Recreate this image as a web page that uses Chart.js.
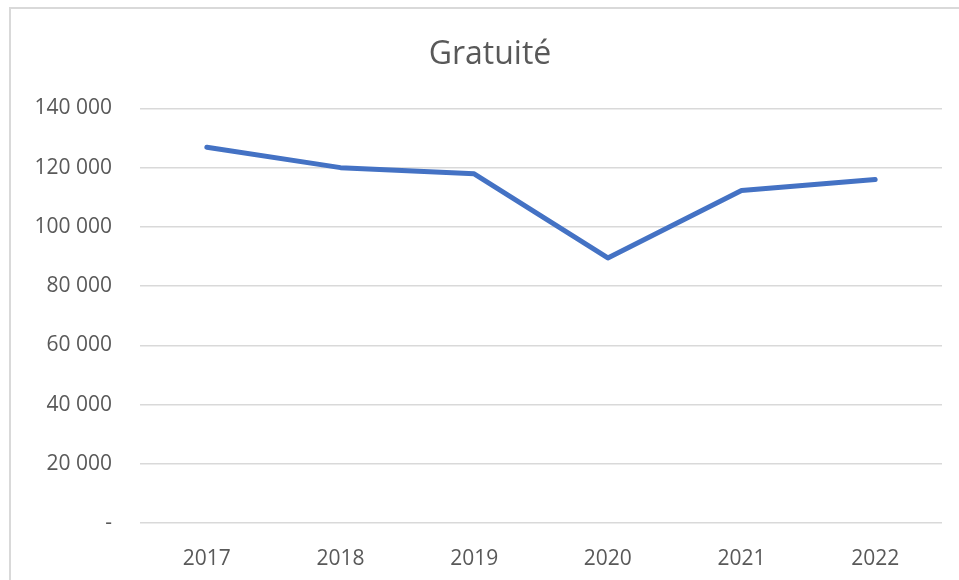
<!DOCTYPE html>
<html>
<head>
<meta charset="utf-8">
<script src="https://cdn.jsdelivr.net/npm/chart.js@4"></script>
<style>
  html, body { margin: 0; padding: 0; background: #fff; overflow: hidden; }
  #frame { position: absolute; left: 9px; top: 7px; width: 1000px; height: 600px;
           border-left: 2px solid #d9d9d9; border-top: 2px solid #d9d9d9; }
  #c { position: absolute; left: 0; top: 0; }
</style>
</head>
<body>
<div id="frame"></div>
<canvas id="c" width="959" height="580"></canvas>
<script>
const title = "Gratuité";
const years = ["2017", "2018", "2019", "2020", "2021", "2022"];
const gratuite = [126900, 120000, 117900, 89500, 112300, 116000];
const yMin = 0, yMax = 140000, yStep = 20000;

function fmt(v) {
  if (v === 0) return "-";
  return String(v).replace(/\B(?=(\d{3})+(?!\d))/g, " ");
}

const font = "'Open Sans', 'Liberation Sans', sans-serif";

const shiftTitle = {
  id: 'shiftTitle',
  afterLayout(chart) {
    const t = chart.titleBlock;
    if (t) { t.left += 14; t.right += 14; }
  }
};

new Chart(document.getElementById('c'), {
  type: 'line',
  data: {
    labels: years,
    datasets: [{
      label: title,
      data: gratuite,
      borderColor: '#4472C4',
      backgroundColor: '#4472C4',
      borderWidth: 5,
      pointRadius: 0,
      tension: 0,
      borderCapStyle: 'round',
      borderJoinStyle: 'round',
      fill: false
    }]
  },
  plugins: [shiftTitle],
  options: {
    responsive: false,
    animation: false,
    devicePixelRatio: 1,
    layout: { padding: { left: 10, right: 17, top: 0, bottom: 0 } },
    plugins: {
      legend: { display: false },
      tooltip: { enabled: false },
      title: {
        display: true,
        text: title,
        color: '#595959',
        font: { family: font, size: 32, weight: 'normal', lineHeight: 1.2 },
        padding: { top: 36, bottom: 34 }
      }
    },
    scales: {
      x: {
        offset: true,
        grid: { display: false },
        border: { display: false },
        ticks: { color: '#595959', font: { family: font, size: 21, lineHeight: 1.2 }, padding: 15, maxRotation: 0 },
        afterFit: (s) => { s.height = 57; }
      },
      y: {
        min: yMin, max: yMax,
        grid: { color: '#d9d9d9', lineWidth: 1.5, drawTicks: false },
        border: { display: false },
        ticks: { stepSize: yStep, color: '#595959', font: { family: font, size: 21 }, padding: 28,
                 callback: (v) => fmt(v) },
        afterFit: (s) => { s.width = 130; }
      }
    }
  }
});
</script>
</body>
</html>
